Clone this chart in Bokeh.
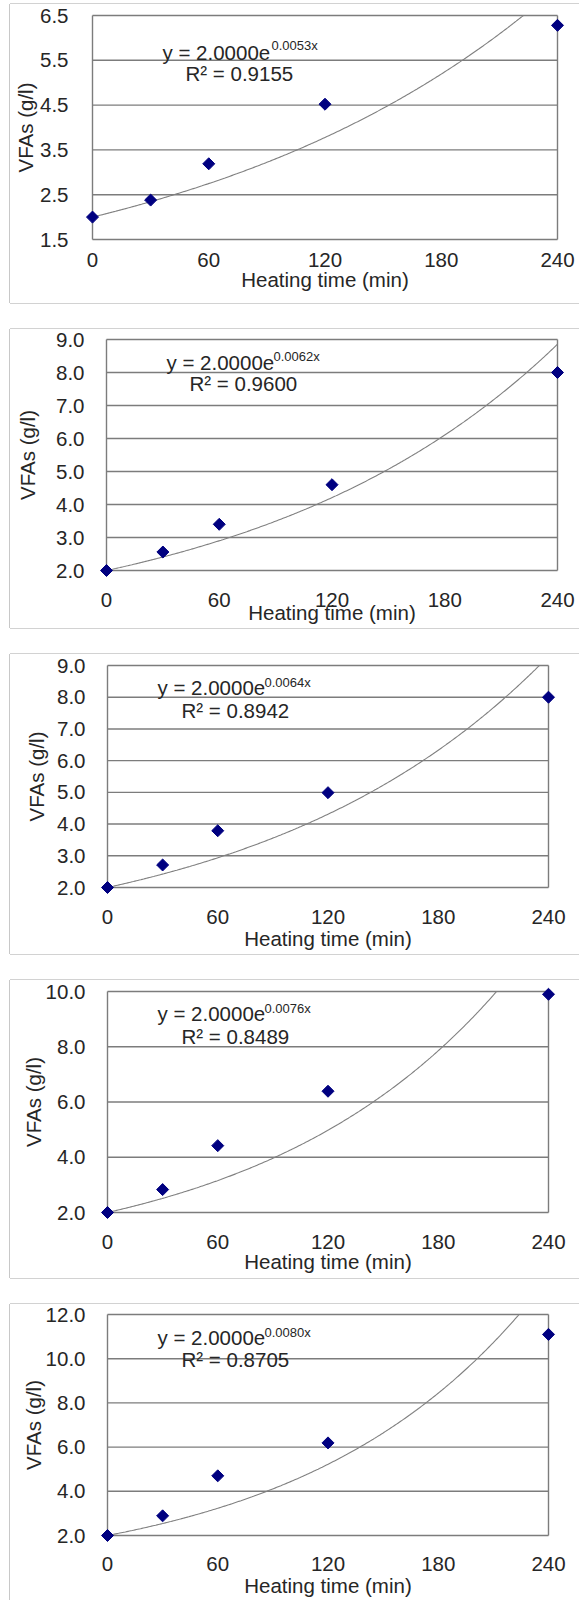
import math
import numpy as np
from bokeh.plotting import figure
from bokeh.models import Range1d, FixedTicker, PrintfTickFormatter, Label
from bokeh.layouts import column
from bokeh.embed import file_html
from bokeh.resources import INLINE

# ---------------- data ----------------
times = [0, 30, 60, 120, 240]
vfa_1 = [2.0, 2.38, 3.19, 4.52, 6.28]
vfa_2 = [2.0, 2.56, 3.40, 4.60, 8.00]
vfa_3 = [2.0, 2.71, 3.79, 4.99, 8.00]
vfa_4 = [2.0, 2.83, 4.42, 6.39, 9.90]
vfa_5 = [2.0, 2.89, 4.70, 6.19, 11.10]
series = [vfa_1, vfa_2, vfa_3, vfa_4, vfa_5]

fit_a = [2.0, 2.0, 2.0, 2.0, 2.0]
fit_b = [0.0053, 0.0062, 0.0064, 0.0076, 0.0080]
eq_main = ["y = 2.0000e"] * 5
eq_sup = ["0.0053x", "0.0062x", "0.0064x", "0.0076x", "0.0080x"]
r2_text = ["R\u00b2 = 0.9155", "R\u00b2 = 0.9600", "R\u00b2 = 0.8942",
           "R\u00b2 = 0.8489", "R\u00b2 = 0.8705"]

xticks = [0, 60, 120, 180, 240]
yticks_1 = [1.5, 2.5, 3.5, 4.5, 5.5, 6.5]
yticks_2 = [2.0, 3.0, 4.0, 5.0, 6.0, 7.0, 8.0, 9.0]
yticks_3 = [2.0, 3.0, 4.0, 5.0, 6.0, 7.0, 8.0, 9.0]
yticks_4 = [2.0, 4.0, 6.0, 8.0, 10.0]
yticks_5 = [2.0, 4.0, 6.0, 8.0, 10.0, 12.0]
yticks_all = [yticks_1, yticks_2, yticks_3, yticks_4, yticks_5]

x_title = "Heating time (min)"
y_title = "VFAs (g/l)"

# ---------------- layout (page pixels) ----------------
COL_X = 10          # left edge of the column on the page
COL_Y = 4           # top edge of the column on the page
FIG_W = 569
PAD = 7             # frame padding around the plot area (keeps edge markers unclipped)
layouts = [
    dict(top=4,    h=299, pl=92,  pr=557, pt=15,   pb=239,  yts=17, yls=0,  xts=6,  xls=-2,
         eq=(162, 52),   sup=(271, 45),   r2=(185, 73)),
    dict(top=329,  h=299, pl=106, pr=557, pt=339,  pb=570,  yts=15, yls=14, xts=15, xls=-9,
         eq=(166, 362),  sup=(273, 356),  r2=(189, 383)),
    dict(top=654,  h=300, pl=107, pr=548, pt=665,  pb=887,  yts=15, yls=6,  xts=15, xls=0,
         eq=(157, 687),  sup=(264, 682),  r2=(181, 710)),
    dict(top=980,  h=298, pl=107, pr=548, pt=991,  pb=1212, yts=15, yls=-2, xts=15, xls=-2,
         eq=(157, 1013), sup=(264, 1008), r2=(181, 1036)),
    dict(top=1304, h=296, pl=107, pr=548, pt=1314, pb=1535, yts=15, yls=-2, xts=14, xls=0,
         eq=(157, 1337), sup=(264, 1332), r2=(181, 1359)),
]

FONT = "Liberation Sans"
TXT = "#262626"
GRID = "#7c7c7c"
MARK = "#000080"
CURVE = "#808080"
FS = "20.5px"

figs = []
for i in range(5):
    L = layouts[i]
    yt = yticks_all[i]
    xmin, xmax = xticks[0], xticks[-1]
    ymin, ymax = yt[0], yt[-1]
    pw = L["pr"] - L["pl"]
    ph = L["pb"] - L["pt"]
    dx = (xmax - xmin) / pw
    dy = (ymax - ymin) / ph

    def to_data(px, py, L=L, dx=dx, dy=dy, xmin=xmin, ymax=ymax):
        return xmin + (px - L["pl"]) * dx, ymax - (py - L["pt"]) * dy

    mb_top = (L["pt"] - PAD) - L["top"]
    mb_bottom = (L["top"] + L["h"]) - (L["pb"] + PAD)
    mb_left = (L["pl"] - PAD) - COL_X
    mb_right = (COL_X + FIG_W) - (L["pr"] + PAD)

    p = figure(width=FIG_W, height=L["h"], title=None,
               x_range=Range1d(xmin - PAD * dx, xmax + PAD * dx),
               y_range=Range1d(ymin - PAD * dy, ymax + PAD * dy),
               output_backend="svg", toolbar_location=None,
               min_border_left=mb_left, min_border_right=mb_right,
               min_border_top=mb_top, min_border_bottom=mb_bottom,
               background_fill_color="white", border_fill_color="white",
               outline_line_color=None, frame_align=False,
               styles={"box-shadow": "-1px 0 0 0 #c8c8c8, 0 -1px 0 0 #d2d2d2, 0 1px 0 0 #d2d2d2"})
    p.xgrid.visible = False
    p.ygrid.visible = False

    # gridlines + plot-area border
    n = len(yt)
    p.segment(x0=[xmin] * n, y0=yt, x1=[xmax] * n, y1=yt, line_color=GRID, line_width=1.4)
    p.segment(x0=[xmin, xmax], y0=[ymin, ymin], x1=[xmin, xmax], y1=[ymax, ymax],
              line_color=GRID, line_width=1.4)

    # exponential trendline (clipped at plot top)
    a, b = fit_a[i], fit_b[i]
    x_end = min(xmax, math.log(ymax / a) / b)
    xc = np.linspace(0, x_end, 300)
    p.line(xc, a * np.exp(b * xc), line_color=CURVE, line_width=1.1)

    # data points (diamonds)
    p.scatter(times, series[i], marker="square", angle=math.pi / 4, size=8.5,
              fill_color=MARK, line_color=MARK)

    # axes
    p.xaxis.ticker = FixedTicker(ticks=xticks)
    p.yaxis.ticker = FixedTicker(ticks=yt)
    p.yaxis.formatter = PrintfTickFormatter(format="%.1f")
    for ax in (p.xaxis[0], p.yaxis[0]):
        ax.axis_line_color = None
        ax.major_tick_line_color = None
        ax.minor_tick_line_color = None
        ax.major_tick_in = 0
        ax.major_tick_out = 0
        ax.minor_tick_in = 0
        ax.minor_tick_out = 0
        ax.major_label_text_font = FONT
        ax.major_label_text_font_size = FS
        ax.major_label_text_color = TXT
        ax.axis_label_text_font = FONT
        ax.axis_label_text_font_size = FS
        ax.axis_label_text_font_style = "normal"
        ax.axis_label_text_color = TXT
    p.xaxis.axis_label = x_title
    p.yaxis.axis_label = y_title
    p.xaxis.major_label_standoff = L["xts"]
    p.xaxis.axis_label_standoff = L["xls"]
    p.yaxis.major_label_standoff = L["yts"]
    p.yaxis.axis_label_standoff = L["yls"]

    # equation labels
    ex, ey = to_data(*L["eq"])
    sx, sy = to_data(*L["sup"])
    rx, ry = to_data(*L["r2"])
    p.add_layout(Label(x=ex, y=ey, text=eq_main[i], text_font=FONT, text_font_size="20.5px",
                       text_color=TXT, text_align="left", text_baseline="middle"))
    p.add_layout(Label(x=sx, y=sy, text=eq_sup[i], text_font=FONT, text_font_size="13px",
                       text_color=TXT, text_align="left", text_baseline="middle"))
    p.add_layout(Label(x=rx, y=ry, text=r2_text[i], text_font=FONT, text_font_size="20.5px",
                       text_color=TXT, text_align="left", text_baseline="middle"))
    figs.append(p)

layout = column(*figs, spacing=26, margin=(COL_Y, 0, 0, COL_X))
open("out.html", "w").write(file_html(layout, INLINE))
